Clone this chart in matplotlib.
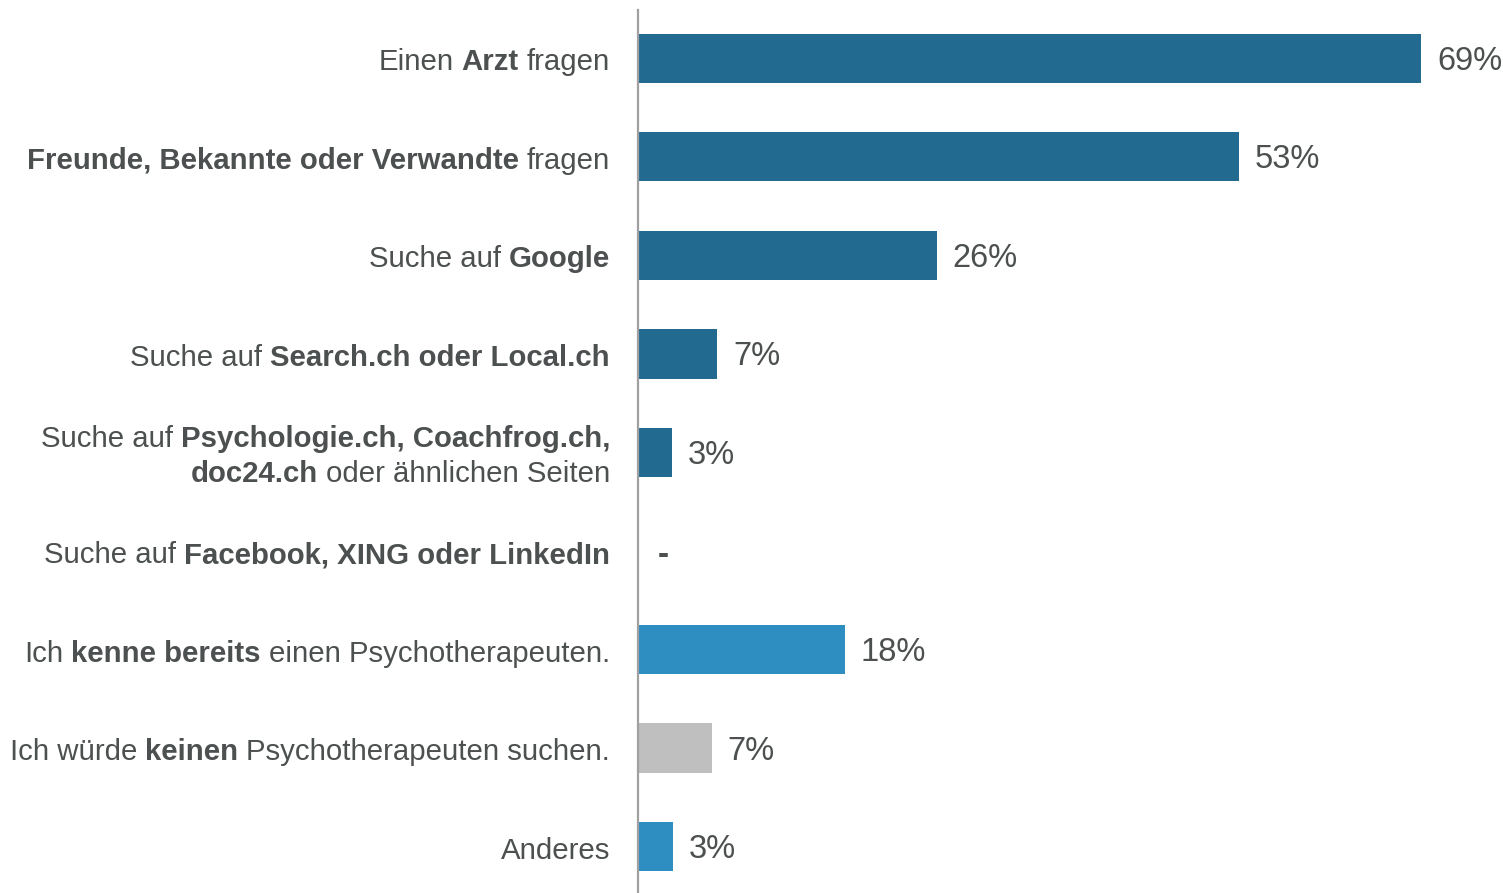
import matplotlib
matplotlib.use("Agg")
import matplotlib.pyplot as plt

plt.rcParams['font.family'] = ['Liberation Sans', 'DejaVu Sans']

# label pieces: (text, bold); a label may have several lines
labels = [
    [[("Einen", False), ("Arzt", True), ("fragen", False)]],
    [[("Freunde, Bekannte oder Verwandte", True), ("fragen", False)]],
    [[("Suche auf", False), ("Google", True)]],
    [[("Suche auf", False), ("Search.ch oder Local.ch", True)]],
    [[("Suche auf", False), ("Psychologie.ch, Coachfrog.ch,", True)],
     [("doc24.ch", True), ("oder ähnlichen Seiten", False)]],
    [[("Suche auf", False), ("Facebook, XING oder LinkedIn", True)]],
    [[("Ich", False), ("kenne bereits", True), ("einen Psychotherapeuten.", False)]],
    [[("Ich würde", False), ("keinen", True), ("Psychotherapeuten suchen.", False)]],
    [[("Anderes", False)]],
]
values = [69.0, 52.95, 26.3, 7.0, 3.0, 0, 18.2, 6.5, 3.1]
value_labels = ["69%", "53%", "26%", "7%", "3%", "-", "18%", "7%", "3%"]
colors = ['#236a91'] * 6 + ['#2e8ec2', '#bfbfbf', '#2e8ec2']

text_color = '#4d5050'

fig = plt.figure(figsize=(15.03, 8.93), dpi=100)
ax = fig.add_axes([638 / 1503, 0, 865 / 1503, 883 / 893])

y = list(range(len(values)))
ax.barh(y, values, height=0.5, color=colors)
ax.set_xlim(0, 865 / 11.35)
ax.set_ylim(8.47, -0.49)

for s in ['top', 'right', 'bottom']:
    ax.spines[s].set_visible(False)
ax.spines['left'].set_color('#a0a0a0')
ax.spines['left'].set_linewidth(1.6)
ax.set_xticks([])
ax.set_yticks([])

# value labels
for i, (v, lab) in enumerate(zip(values, value_labels)):
    if lab == "-":
        ax.annotate(lab, xy=(0, i), xytext=(20, -4), textcoords='offset pixels',
                    ha='left', va='center', fontsize=24, fontweight='bold', color=text_color)
    else:
        ax.annotate(lab, xy=(v, i), xytext=(16, -3), textcoords='offset pixels',
                    ha='left', va='center', fontsize=23.5, color=text_color)

# category labels with mixed bold, built right to left
line_gap = 0.36
gap_px = 8
for i, lines in enumerate(labels):
    n = len(lines)
    for k, segs in enumerate(lines):
        yy = i + (k - (n - 1) / 2) * line_gap
        prev = None
        for txt, bold in reversed(segs):
            w = 'bold' if bold else 'normal'
            if prev is None:
                prev = ax.annotate(txt, xy=(0, yy), xycoords=ax.get_yaxis_transform(),
                                   xytext=(-28, -4), textcoords='offset pixels',
                                   ha='right', va='center', fontsize=21.2,
                                   fontweight=w, color=text_color, annotation_clip=False)
            else:
                prev = ax.annotate(txt, xy=(0, 0), xycoords=prev,
                                   xytext=(-gap_px, 0), textcoords='offset pixels',
                                   ha='right', va='bottom', fontsize=21.2,
                                   fontweight=w, color=text_color, annotation_clip=False)

fig.savefig("out.png", dpi=100)
